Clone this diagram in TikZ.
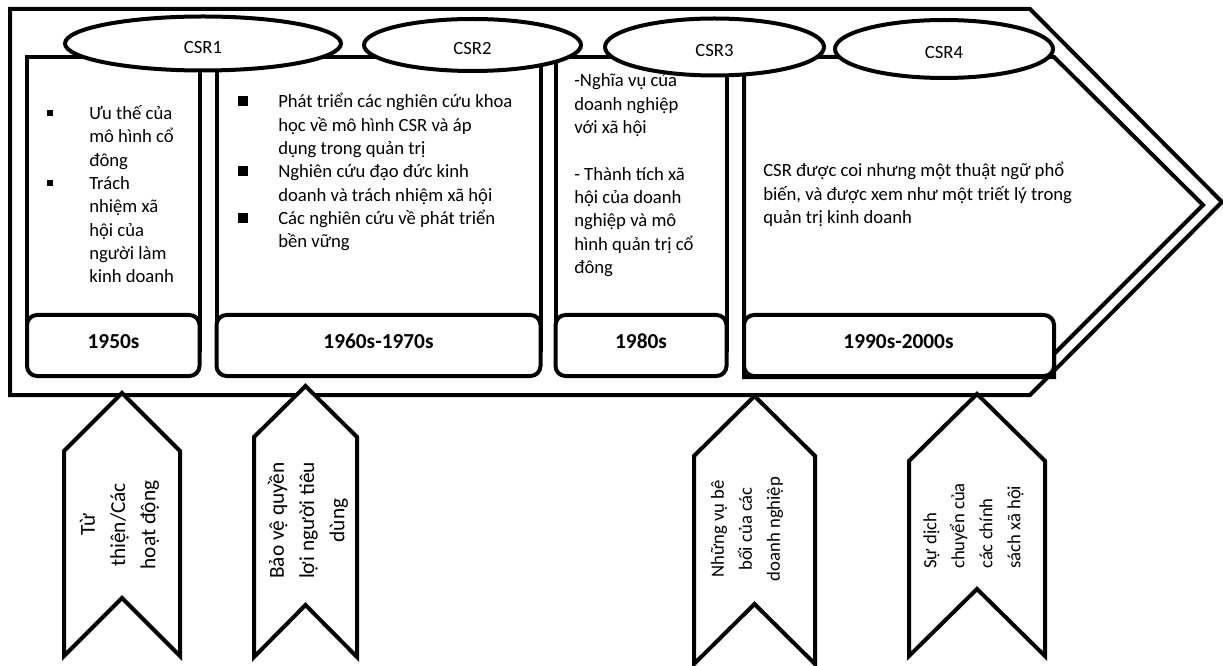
\documentclass[tikz,border=0pt]{standalone}
\usepackage{fontspec}
\setmainfont{Carlito}
\usetikzlibrary{shapes.geometric}
\newcommand\setlsk{\lineskiplimit=-100pt\lineskip=0pt}
\newcommand\vlines[1]{\vtop{\baselineskip=17.5pt\setlsk\def\\{\egroup\hbox\bgroup\ignorespaces}\hbox\bgroup\ignorespaces#1\egroup}}
\begin{document}
\begin{tikzpicture}[x=0.75pt,y=-0.75pt,
  shapeline/.style={draw, fill=white, line width=3pt},
  yearbox/.style={draw, fill=white, line width=3pt, rounded corners=7.5pt},
  csr/.style={ellipse, draw, fill=white, line width=3pt, inner sep=0pt, text height=15pt, text depth=0pt, font=\fontsize{14}{17}\selectfont},
  body/.style={anchor=base west, inner sep=0pt, font=\fontsize{14}{17.5}\selectfont},
  yr/.style={anchor=base, inner sep=0pt, font=\fontsize{16}{19}\selectfont\bfseries},
  banner/.style={draw, fill=white, line width=3pt},
  bt/.style={rotate=90, inner sep=0pt, align=center},
  bigf/.style={font=\fontsize{16}{22.7}\selectfont\setlsk},
  smallf/.style={font=\fontsize{14}{21}\selectfont\setlsk},
  bulsmall/.style={fill, inner sep=0pt, minimum size=4.5pt},
  bulbig/.style={fill, inner sep=0pt, minimum size=8pt}]
\useasboundingbox (0,0) rectangle (1223,666);
% outer chevron
\draw[shapeline] (10,9) -- (1030,9) -- (1222,202) -- (1030,395) -- (10,395) -- cycle;
% panels
\draw[shapeline] (27,57) rectangle (199.5,350);
\draw[shapeline] (216.5,57) rectangle (540.5,350);
\draw[shapeline] (555.5,57) rectangle (726.5,350);
\draw[shapeline] (744,57) -- (1054,57) -- (1203,205) -- (1054,354) -- (1054,377) -- (744,377) -- cycle;
% year boxes
\draw[yearbox] (27,315) rectangle (199.5,376);
\draw[yearbox] (216.5,315) rectangle (540.5,376);
\draw[yearbox] (555.5,315) rectangle (726.5,376);
\draw[yearbox] (744,315) rectangle (1054,376);
\node[yr] (y1) at (113.5,349) {1950s};
\node[yr] (y2) at (378.5,349) {1960s-1970s};
\node[yr] (y3) at (641,349) {1980s};
\node[yr] (y4) at (898.5,349) {1990s-2000s};
% panel texts
\node[bulsmall] (b11) at (50,113) {};
\node[bulsmall] (b12) at (50,183) {};
\node[body] (t1) at (89,119.5) {\vlines{Ưu thế của\\mô hình cổ\\đông\\Trách\\nhiệm xã\\hội của\\người làm\\kinh doanh}};
\node[bulbig] (b21) at (243,101) {};
\node[bulbig] (b22) at (243,171) {};
\node[bulbig] (b23) at (243,218) {};
\node[body] (t2) at (278,108) {\vlines{Phát triển các nghiên cứu khoa\\học về mô hình CSR và áp\\dụng trong quản trị\\Nghiên cứu đạo đức kinh\\doanh và trách nhiệm xã hội\\Các nghiên cứu về phát triển\\bền vững}};
\node[body] (t3) at (574,87) {\vlines{-Nghĩa vụ của\\doanh nghiệp\\với xã hội\\\\- Thành tích xã\\hội của doanh\\nghiệp và mô\\hình quản trị cổ\\đông}};
\node[body] (t4) at (763,177) {\vlines{CSR được coi nhưng một thuật ngữ phổ\\biến, và được xem như một triết lý trong\\quản trị kinh doanh}};
% ellipses
\node[csr, minimum width=207pt, minimum height=40.5pt] (c1) at (203,43.5) {CSR1};
\node[csr, minimum width=162.75pt, minimum height=39pt] (c2) at (472.5,45) {CSR2};
\node[csr, minimum width=164.25pt, minimum height=42.75pt] (c3) at (714.5,47) {CSR3};
\node[csr, minimum width=163.5pt, minimum height=43.5pt] (c4) at (944,49) {CSR4};
% banners
\draw[banner] (122,393) -- (180,451) -- (180,656) -- (122,598) -- (64,656) -- (64,451) -- cycle;
\draw[banner] (305.5,386) -- (357,437) -- (357,657) -- (305.5,605) -- (254,657) -- (254,437) -- cycle;
\draw[banner] (754.5,396) -- (815,456) -- (815,664) -- (754.5,604) -- (694,664) -- (694,456) -- cycle;
\draw[banner] (977,394) -- (1045,461) -- (1045,656) -- (977,589) -- (909,656) -- (909,461) -- cycle;
\node[bt, bigf] (a1) at (119.5,525) {Từ\\thiện/Các\\hoạt động};
\node[bt, bigf] (a2) at (308,520.5) {Bảo vệ quyền\\lợi người tiêu\\dùng};
\node[bt, smallf] (a3) at (747,529) {Những vụ bê\\bối của các\\doanh nghiệp};
\node[bt, smallf, align=left, anchor=west] (a4) at (973.5,569) {Sự dịch\\chuyển của\\các chính\\sách xã hội};
\end{tikzpicture}
\end{document}
